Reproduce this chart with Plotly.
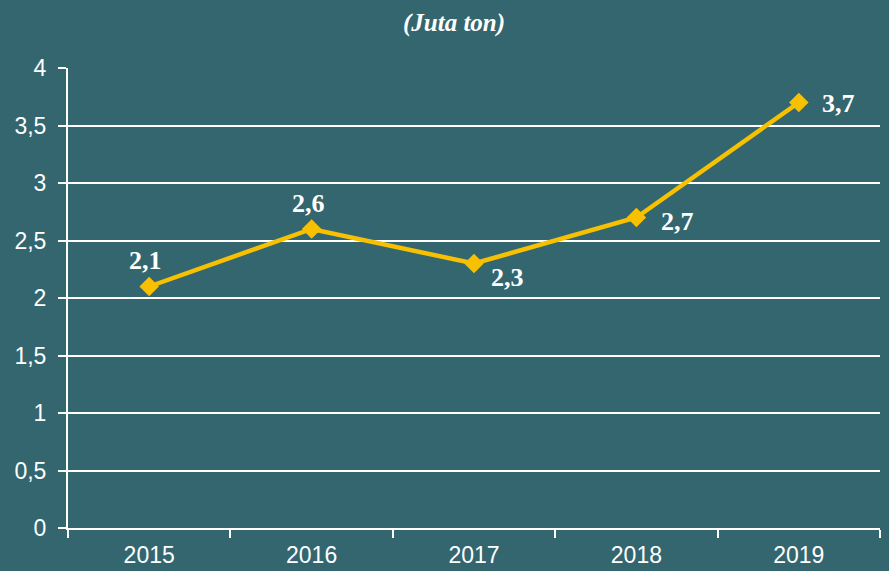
import plotly.graph_objects as go

years = ["2015", "2016", "2017", "2018", "2019"]
values = [2.1, 2.6, 2.3, 2.7, 3.7]
labels = ["2,1", "2,6", "2,3", "2,7", "3,7"]
y_ticks = [0, 0.5, 1, 1.5, 2, 2.5, 3, 3.5, 4]

# label offsets in pixels (style only)
label_dx = [-4, -3, 33, 41, 40]
label_dy = [26, 26, -14, -4, -1]

BG = "#33666F"
GOLD = "#F7C000"

fig = go.Figure()
fig.add_trace(go.Scatter(
    x=years, y=values, mode="lines+markers",
    line=dict(color=GOLD, width=4.5),
    marker=dict(symbol="diamond", size=15, color=GOLD),
    cliponaxis=False, showlegend=False,
))

annotations = [dict(
    text="<b><i>(Juta ton)</i></b>", x=0.5, xref="paper", y=1, yref="paper",
    xanchor="center", yanchor="middle", xshift=-20, yshift=45, showarrow=False,
    font=dict(family="Liberation Serif", size=25, color="white"),
)]
for i, (v, lab, dx, dy) in enumerate(zip(values, labels, label_dx, label_dy)):
    annotations.append(dict(
        text="<b>" + lab + "</b>", x=i, y=v, xref="x", yref="y",
        xanchor="center", yanchor="middle", xshift=dx, yshift=dy,
        showarrow=False,
        font=dict(family="Liberation Serif", size=26, color="white"),
    ))

fig.update_layout(
    width=889, height=571,
    paper_bgcolor=BG, plot_bgcolor=BG,
    margin=dict(l=68, r=9, t=68, b=43, autoexpand=False),
    separators=",.",
    font=dict(family="Liberation Sans, Arial", color="white", size=23),
    annotations=annotations,
)
fig.update_xaxes(
    type="category", range=[-0.5, 4.5], tickson="boundaries", ticks="outside",
    ticklen=8, tickwidth=2, tickcolor="white", showline=True, linecolor="white",
    linewidth=2, showgrid=False, tickfont=dict(size=23), ticklabelstandoff=5,
    automargin=False,
)
fig.update_yaxes(
    range=[0, 4], tickvals=y_ticks, ticks="outside", ticklen=8, tickwidth=2,
    tickcolor="white", showline=True, linecolor="white", linewidth=2,
    showgrid=True, gridcolor="white", gridwidth=2, zeroline=False,
    tickfont=dict(size=23), ticklabelstandoff=7, automargin=False,
)

fig.write_html("out.html", config={"displayModeBar": False},
               post_script="document.body.style.margin='0';")
